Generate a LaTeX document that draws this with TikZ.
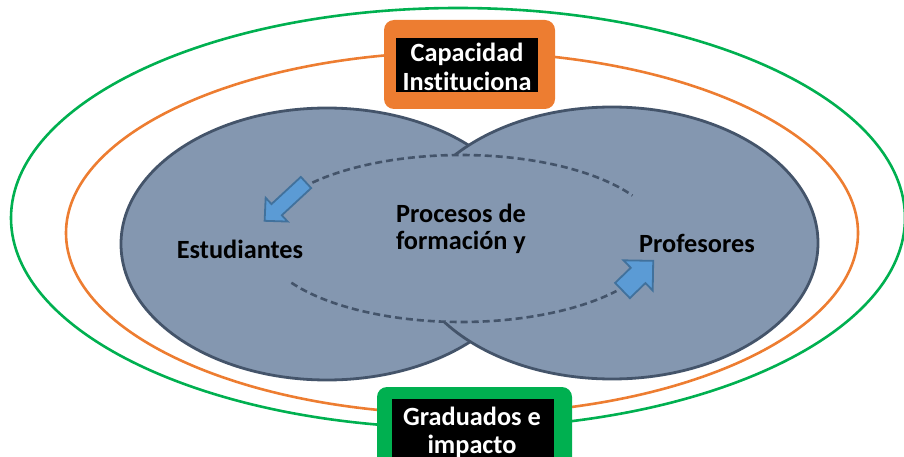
\documentclass[tikz,border=0pt]{standalone}
\usepackage{fontspec}
\setmainfont{Carlito}[Ligatures=NoCommon]
\definecolor{naranja}{HTML}{ED7D31}
\definecolor{verde}{HTML}{00B050}
\definecolor{azulgris}{HTML}{8497B0}
\definecolor{borde}{HTML}{44546A}
\definecolor{flecha}{HTML}{5B9BD5}
\definecolor{flechaborde}{HTML}{41719C}
\tikzset{
  circulo/.style={draw=borde, line width=2.8pt, fill=azulgris},
  anillo/.style={line width=2.6pt},
  trazo/.style={draw=borde, line width=2.6pt, dash pattern=on 7pt off 4pt},
  flechabloque/.style={fill=flecha, draw=flechaborde, line width=1.8pt},
  texto/.style={font=\bfseries\fontsize{26.3}{27}\selectfont, align=center, inner sep=0pt},
  textocaja/.style={texto, text=white, font=\bfseries\fontsize{26.3}{28.5}\selectfont}
}
\begin{document}
\begin{tikzpicture}[x=1pt,y=-1pt]
\useasboundingbox (0,0) rectangle (904,457);
\clip (0,0) rectangle (904,457);
% anillos exteriores
\draw[anillo, verde] (458,218) ellipse (447 and 210);
\draw[anillo, naranja] (462,233) ellipse (396 and 181);
% estudiantes y profesores
\draw[circulo] (327,244) ellipse (206 and 136);
\draw[circulo] (612,243) ellipse (206 and 136);
\fill[azulgris] (461,238.5) ellipse (200 and 83.5);
% ciclo
\draw[trazo] plot[domain=138:31, samples=60] ({461+200*cos(\x)}, {238.5-83.5*sin(\x)});
\draw[trazo] plot[domain=212:321, samples=60] ({461+200*cos(\x)}, {238.5-83.5*sin(\x)});
\draw[flechabloque, shift={(306,182.5)}, rotate=222.8]
  (0,-7.6) -- (40,-7.6) -- (40,-16.2) -- (56.4,0) -- (40,16.2) -- (40,7.6) -- (0,7.6) -- cycle;
\draw[flechabloque, shift={(622.5,290.5)}, rotate=44]
  (0,-10.6) -- (21.7,-10.6) -- (21.7,-21) -- (42.7,0) -- (21.7,21) -- (21.7,10.6) -- (0,10.6) -- cycle;
\node[texto] (estudiantes) at (240,249.5) {Estudiantes};
\node[texto] (profesores) at (697,243.5) {Profesores};
\node[texto] (procesos) at (461,228.5) {Procesos de\\formación y};
% cajas
\fill[naranja, rounded corners=10pt] (384,20) rectangle (555,109);
\fill[black] (396,38) rectangle (538,92);
\node[textocaja] (capacidad) at (467,67) {Capacidad\\Instituciona};
\fill[verde, rounded corners=10pt] (377,387) rectangle (572,480);
\fill[black] (392,399) rectangle (554,470);
\node[textocaja] (graduados) at (472,432.5) {Graduados e\\impacto};
\end{tikzpicture}
\end{document}
